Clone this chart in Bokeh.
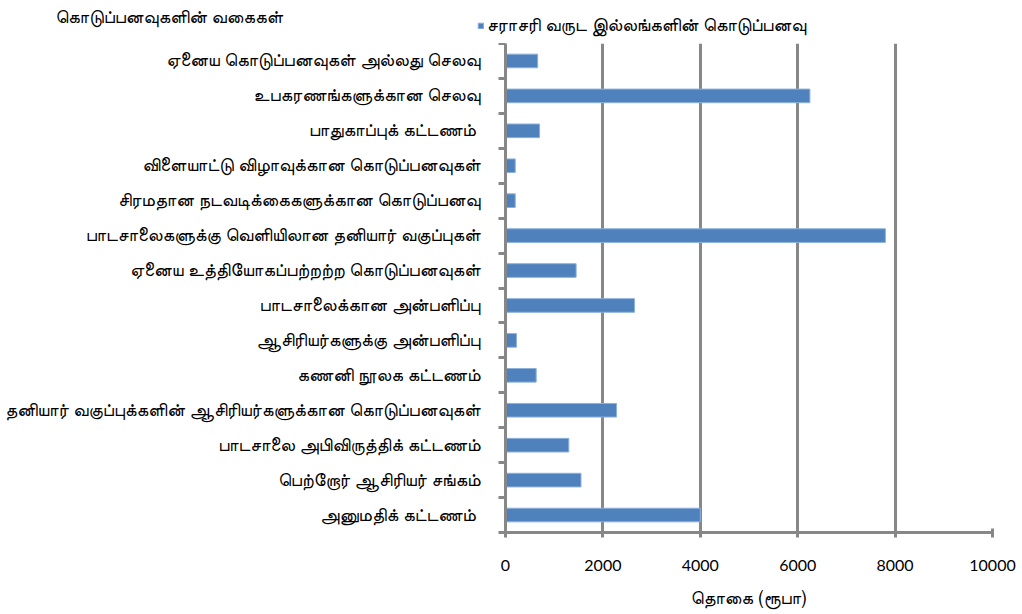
from bokeh.plotting import figure
from bokeh.models import Range1d, FixedTicker, Legend, LegendItem, Label
from bokeh.embed import file_html
from bokeh.resources import INLINE

# categories listed top to bottom as shown in the chart
categories = [
    "ஏனைய கொடுப்பனவுகள் அல்லது செலவு",
    "உபகரணங்களுக்கான செலவு",
    "பாதுகாப்புக் கட்டணம் ",
    "விளையாட்டு விழாவுக்கான கொடுப்பனவுகள்",
    "சிரமதான நடவடிக்கைகளுக்கான கொடுப்பனவு",
    "பாடசாலைகளுக்கு வெளியிலான தனியார் வகுப்புகள்",
    "ஏனைய உத்தியோகப்பற்றற்ற கொடுப்பனவுகள்",
    "பாடசாலைக்கான அன்பளிப்பு",
    "ஆசிரியர்களுக்கு அன்பளிப்பு",
    "கணனி நூலக கட்டணம்",
    "தனியார் வகுப்புக்களின் ஆசிரியர்களுக்கான கொடுப்பனவுகள்",
    "பாடசாலை அபிவிருத்திக் கட்டணம்",
    "பெற்றோர் ஆசிரியர் சங்கம்",
    "அனுமதிக் கட்டணம் ",
]
values = [660, 6250, 700, 200, 200, 7800, 1450, 2650, 225, 630, 2280, 1300, 1550, 4000]
x_ticks = [0, 2000, 4000, 6000, 8000, 10000]
series_name = "சராசரி வருட இல்லங்களின் கொடுப்பனவு"
y_title = "கொடுப்பனவுகளின் வகைகள்"
x_title = "தொகை (ரூபா)"

n = len(categories)
ypos = [n - 0.5 - i for i in range(n)]

GRAY = "#878787"
BAR = "#4F81BD"
EDGE = "#8db0dc"
TAMIL = "FreeSans"
TSIZE = "18.5px"
W = 1020

# ---- header strip: y-axis title and legend ----
# the series is drawn here too, but its ranges keep the bars well out of view,
# so only its legend key shows
hdr = figure(width=W, height=43, output_backend="svg", toolbar_location=None, title=None,
             x_range=Range1d(-30000, -20000), y_range=Range1d(-100, -57),
             x_axis_location=None, y_axis_location=None,
             min_border=0, min_border_left=0, min_border_right=0,
             min_border_top=0, min_border_bottom=0)
hdr.outline_line_color = None
hdr.grid.visible = False
key = hdr.hbar(y=ypos, right=values, left=0, height=0.39, fill_color=BAR, line_color=EDGE)
hdr.add_layout(Legend(items=[LegendItem(label=series_name, renderers=[key])],
                      location=(477, 7), orientation="horizontal",
                      border_line_color=None, background_fill_alpha=0,
                      padding=0, margin=0, glyph_width=7, glyph_height=7,
                      label_standoff=3, label_text_font=TAMIL, label_text_font_size=TSIZE,
                      label_text_color="black", label_height=20))
hdr.add_layout(Label(x=55, y=26, x_units="screen", y_units="screen", text=y_title,
                     text_font=TAMIL, text_font_size=TSIZE, text_baseline="middle",
                     text_color="black"))

# ---- main chart ----
p = figure(width=W, height=571, output_backend="svg", toolbar_location=None, title=None,
           x_range=Range1d(0, 10000), y_range=Range1d(0, n),
           min_border_left=505, min_border_right=28, min_border_top=0, min_border_bottom=82)
p.outline_line_color = None
p.background_fill_color = "white"

p.hbar(y=ypos, right=values, left=0, height=0.39, fill_color=BAR,
       line_color=EDGE, line_width=1)

xa = p.xaxis[0]
xa.ticker = FixedTicker(ticks=x_ticks)
xa.axis_line_color = GRAY
xa.axis_line_width = 3
xa.major_tick_line_color = GRAY
xa.major_tick_line_width = 3
xa.major_tick_in = 4
xa.major_tick_out = 5
xa.minor_tick_line_color = None
xa.major_label_text_font = "Lato"
xa.major_label_text_font_size = "16px"
xa.major_label_text_color = "black"
xa.major_label_standoff = 22
xa.axis_label = x_title
xa.axis_label_text_font = TAMIL
xa.axis_label_text_font_style = "normal"
xa.axis_label_text_font_size = TSIZE
xa.axis_label_text_color = "black"
xa.axis_label_standoff = 15

ya = p.yaxis[0]
ya.ticker = FixedTicker(ticks=ypos, minor_ticks=list(range(n + 1)))
ya.major_label_overrides = {y: c for y, c in zip(ypos, categories)}
ya.axis_line_color = GRAY
ya.axis_line_width = 3
ya.major_tick_line_color = None
ya.major_tick_out = 0
ya.major_tick_in = 0
ya.minor_tick_line_color = GRAY
ya.minor_tick_line_width = 3
ya.minor_tick_out = 7
ya.minor_tick_in = 0
ya.major_label_text_font = TAMIL
ya.major_label_text_font_size = TSIZE
ya.major_label_text_color = "black"
ya.major_label_standoff = 18

p.xgrid.ticker = FixedTicker(ticks=x_ticks[1:])
p.xgrid.grid_line_color = GRAY
p.xgrid.grid_line_width = 3
p.ygrid.grid_line_color = None

open("out.html", "w").write(file_html([hdr, p], INLINE))
